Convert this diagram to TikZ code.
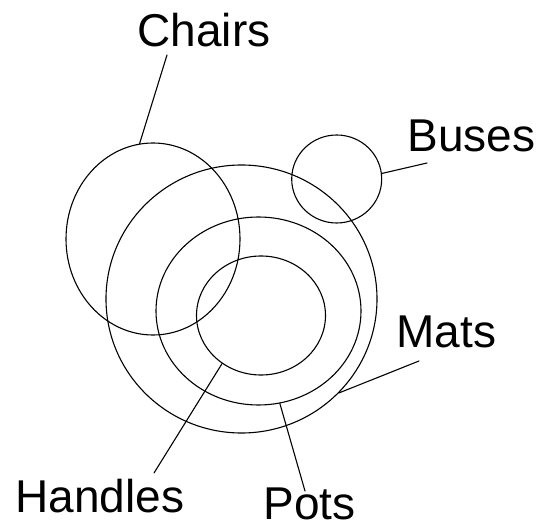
\documentclass[tikz,border=0pt]{standalone}
\usepackage{fontspec}
\setmainfont{Liberation Sans}
\usetikzlibrary{shapes.geometric}
\begin{document}
\begin{tikzpicture}[x=1pt, y=-1pt, line width=1.1pt, line cap=round,
    set/.style={draw, ellipse, inner sep=0pt},
    lbl/.style={inner sep=0pt, anchor=base west, font=\fontsize{46}{50}\selectfont}]
  \useasboundingbox (0,0) rectangle (541,529);
  % sets
  \node[set, minimum width=174, minimum height=192] (chairs) at (153,239) {};
  \node[set, minimum width=90, minimum height=88] (buses) at (336.7,179) {};
  \node[set, minimum width=271, minimum height=268] (mats) at (241.5,299) {};
  \node[set, minimum width=205, minimum height=188] (pots) at (258.5,311) {};
  \node[set, minimum width=129, minimum height=119] (handles) at (261,315.5) {};
  % labels
  \node[lbl] (chairs label) at (137,47) {Chairs};
  \node[lbl] (buses label) at (407,152) {Buses};
  \node[lbl] (mats label) at (396,348) {Mats};
  \node[lbl] (handles label) at (15,512) {Handles};
  \node[lbl] (pots label) at (263,519) {Pots};
  % leader ends
  \coordinate (chairs end) at (167,55);
  \coordinate (buses end) at (427,163);
  \coordinate (mats end) at (419,361);
  \coordinate (handles end) at (154,473);
  \coordinate (pots end) at (305,491);
  % leaders
  \draw (chairs.98) -- (chairs end);
  \draw (buses.7.5) -- (buses end);
  \draw (mats.-44) -- (mats end);
  \draw (handles.-129.5) -- (handles end);
  \draw (pots.-77) -- (pots end);
\end{tikzpicture}
\end{document}
